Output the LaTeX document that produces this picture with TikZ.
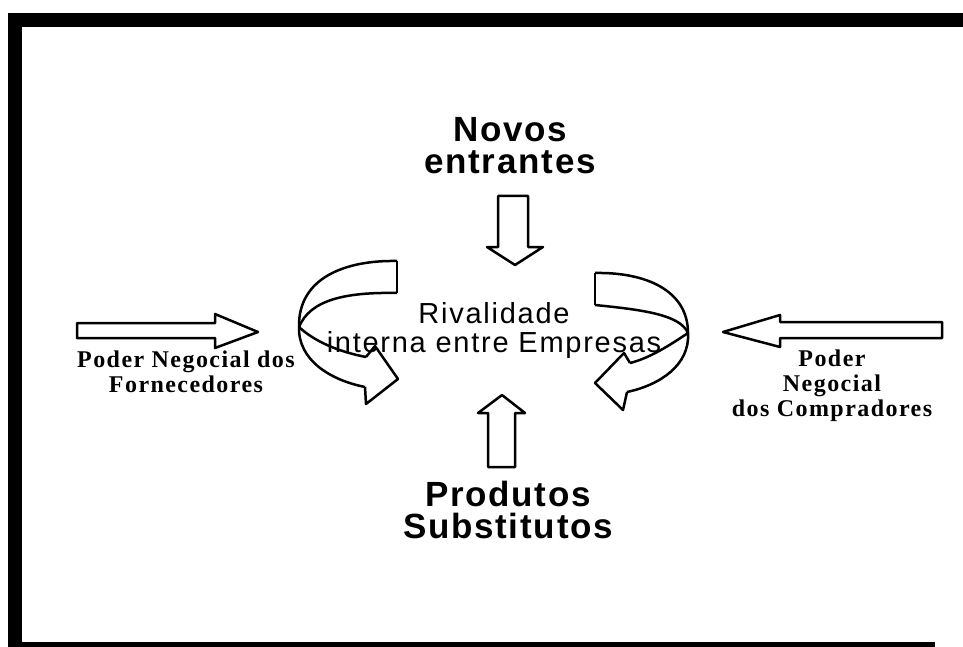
\documentclass[tikz,border=0pt]{standalone}
\usepackage{fontspec}
\setmainfont{Liberation Serif}
\setsansfont{Liberation Sans}
\newfontfamily\sansforca[LetterSpace=5]{Liberation Sans}
\newfontfamily\sanscentro[LetterSpace=6]{Liberation Sans}
\newfontfamily\serifforca[LetterSpace=6]{Liberation Serif}

\begin{document}
\begin{tikzpicture}[x=1pt,y=-1pt,
    forca/.style={font=\sansforca\bfseries\fontsize{35}{32}\selectfont, align=center, inner sep=0pt, anchor=north},
    centro/.style={font=\sanscentro\fontsize{29}{29}\selectfont, align=center, inner sep=0pt, anchor=north},
    poder/.style={font=\serifforca\bfseries\fontsize{24}{25}\selectfont, align=center, inner sep=0pt, anchor=north},
    seta/.style={line width=2.5pt, line join=round}]
    \useasboundingbox (0,0) rectangle (963,647);
    % moldura
    \fill (8,13) rectangle (22,647);
    \fill (8,13) rectangle (963,27);
    \fill (8,642) rectangle (935,647);
    % setas retas
    \draw[seta] (77,323) -- (215,323) -- (215,314) -- (258,332) -- (215,348) -- (215,338) -- (77,338) -- cycle;% fornecedores
    \draw[seta] (942,322) -- (780,322) -- (780,315) -- (723,332) -- (780,347) -- (780,338) -- (942,338) -- cycle;% compradores
    \draw[seta] (498,196) -- (528,196) -- (528,247) -- (543,247) -- (515,265) -- (487,247) -- (498,247) -- cycle;% entrantes
    \draw[seta] (488,467) -- (488,413) -- (478,413) -- (502,395) -- (525,413) -- (515,413) -- (515,467) -- cycle;% substitutos
    % seta curva esquerda
    \draw[seta] (397,261) -- (397,293);
    \draw[seta] (397,261) .. controls (345,260) and (298,278) .. (299,327);
    \draw[seta] (397,293) .. controls (345,292) and (310,300) .. (299,327);
    \draw[seta] (299,327) .. controls (298,360) and (330,380) .. (365,387);
    \draw[seta] (299,327) .. controls (315,342) and (340,352) .. (366,357);
    \draw[seta] (366,357) -- (375,346) -- (398,379) -- (366,404) -- (365,387);
    % seta curva direita
    \draw[seta] (595,273) -- (595,305);
    \draw[seta] (595,273) .. controls (645,272) and (688,290) .. (688,333);
    \draw[seta] (595,305) .. controls (645,310) and (680,315) .. (688,333);
    \draw[seta] (688,333) .. controls (690,365) and (660,385) .. (627,392);
    \draw[seta] (688,333) .. controls (670,345) and (650,358) .. (630,363);
    \draw[seta] (630,363) -- (624,353) -- (595,383) -- (623,410) -- (627,392);
    % textos
    \node[forca] (entrantes) at (510,117) {Novos\\entrantes};
    \node[forca] (substitutos) at (508,481) {Produtos\\Substitutos};
    \node[centro] (rivalidade) at (494,302) {Rivalidade\\interna entre Empresas};
    \node[poder] (fornecedores) at (186,351) {Poder Negocial dos\\Fornecedores};
    \node[poder] (compradores) at (832,350) {Poder\\Negocial\\dos Compradores};
  \end{tikzpicture}
\end{document}
